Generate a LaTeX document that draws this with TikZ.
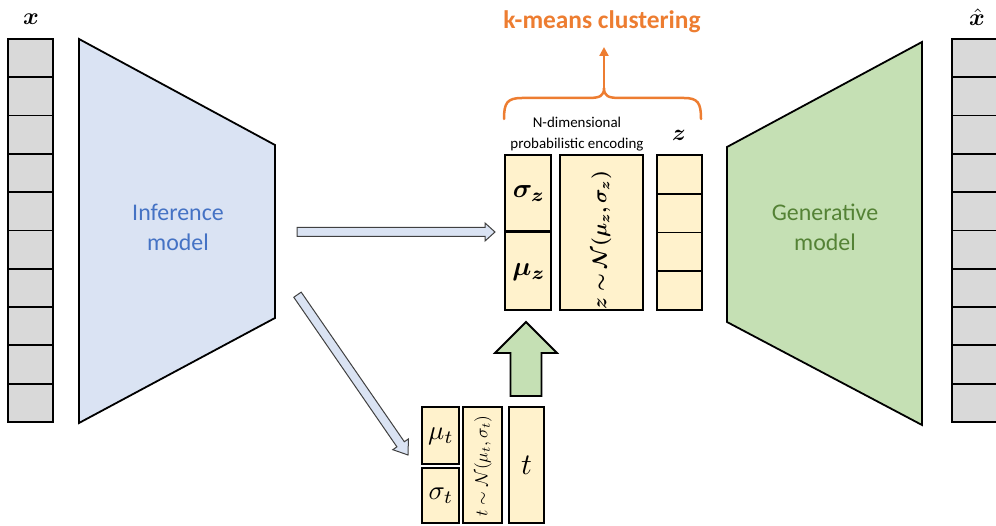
\documentclass[tikz,border=0pt]{standalone}
\usepackage{bm}
\usepackage[no-math]{fontspec}
\newfontfamily\carlito{Carlito}
\usetikzlibrary{calc,arrows.meta}
\definecolor{infill}{HTML}{DAE3F3}
\definecolor{genfill}{HTML}{C5E0B4}
\definecolor{boxfill}{HTML}{FFF2CC}
\definecolor{cellfill}{HTML}{D9D9D9}
\definecolor{orng}{HTML}{ED7D31}
\definecolor{bluetxt}{HTML}{4472C4}
\definecolor{greentxt}{HTML}{548235}
\definecolor{arrline}{HTML}{404040}
\newcommand\blockarr[6]{%
  \coordinate (ba-C) at ($(#2)!#5!(#1)$);
  \draw[#6] ($(#1)!#3!90:(#2)$) -- ($(ba-C)!#3!90:(#2)$) -- ($(ba-C)!#4!90:(#2)$) -- (#2)
    -- ($(ba-C)!#4!-90:(#2)$) -- ($(ba-C)!#3!-90:(#2)$) -- ($(#1)!#3!-90:(#2)$) -- cycle;}
\tikzset{
  cell/.style={draw=black, line width=1.8bp, fill=cellfill},
  ybox/.style={draw=black, line width=1.8bp, fill=boxfill},
  trap/.style={draw=black, line width=1.8bp},
  barrow/.style={draw=arrline, line width=1bp, fill=infill},
  garrow/.style={draw=black, line width=1.8bp, fill=genfill},
  modeltxt/.style={font=\carlito\fontsize{24}{30}\selectfont, align=center},
  mathtxt/.style={inner sep=0pt, scale=#1},
}
\begin{document}
\begin{tikzpicture}[x=1bp,y=-1bp]
\useasboundingbox (0,0) rectangle (996,526);
% input column
\foreach \i in {0,...,9}
  \draw[cell] (8,{39+38.3*\i}) rectangle ++(45,38.3);
\node[mathtxt=2.4] (xlab) at (31,19) {$\bm{x}$};
% output column
\foreach \i in {0,...,9}
  \draw[cell] (952,{39+38.3*\i}) rectangle ++(50,38.3);
\node[mathtxt=2.4] (xhatlab) at (977,17) {$\hat{\bm{x}}$};
% inference model
\draw[trap, fill=infill] (79,39) -- (275,145) -- (275,318) -- (79,423) -- cycle;
\node[modeltxt, text=bluetxt] (inf) at (178,227) {Inference\\model};
% generative model
\draw[trap, fill=genfill] (922,42) -- (727,147) -- (727,322) -- (922,425) -- cycle;
\node[modeltxt, text=greentxt] (gen) at (825,227) {Generative\\model};
% encoding boxes
\draw[ybox] (505,155) rectangle (551,310);
\draw[black, line width=3bp] (505,232) -- (551,232);
\node[mathtxt=2.7] (sigz) at (529,194) {$\bm{\sigma_z}$};
\node[mathtxt=2.7] (muz) at (529,272) {$\bm{\mu_z}$};
\draw[ybox] (560,155) rectangle (643,310);
\node[mathtxt=2.0, rotate=90] (zdist) at (601.5,240) {$\bm{z\sim\mathcal{N}(\mu_z,\sigma_z)}$};
\foreach \y in {155,193.75,232.5,271.25}
  \draw[ybox] (657,\y) rectangle ++(45,38.75);
\node[mathtxt=2.3] (zlab) at (679,135) {$\bm{z}$};
\node[font=\carlito\fontsize{15}{21}\selectfont, align=center, inner sep=0pt] (ndim) at (577,134) {N-dimensional\\probabilistic encoding};
% brace and k-means
\draw[orng, line width=2.5bp, line cap=round]
  (504,119) .. controls (504,103) and (507,98) .. (522,98) -- (588,98)
  .. controls (600,98) and (604,96) .. (604,88)
  .. controls (604,96) and (608,98) .. (620,98) -- (684,98)
  .. controls (698,98) and (701,103) .. (701,119);
\coordinate (brtip) at (604,88);
\coordinate (ktip) at (604,47);
\draw[orng, line width=2.5bp, -{Triangle[length=9bp,width=9bp]}] (brtip) -- (ktip);
\node[font=\carlito\bfseries\fontsize{25.5}{30}\selectfont, text=orng] (kmeans) at (602,22) {k-means clustering};
% lower boxes
\draw[ybox] (422,407) rectangle (459,464);
\draw[ybox] (422,468) rectangle (459,523);
\node[mathtxt=2.7] (mut) at (441,436) {$\mu_t$};
\node[mathtxt=2.7] (sigt) at (441,496) {$\sigma_t$};
\draw[ybox] (463,407) rectangle (502,523);
\node[mathtxt=1.75, rotate=90] (tdist) at (483,466) {$t\sim\mathcal{N}(\mu_t,\sigma_t)$};
\draw[ybox] (509,407) rectangle (544,523);
\node[mathtxt=3.0] (tlab) at (526.5,465) {$t$};
% block arrows
\coordinate (h1) at (297,232);
\coordinate (h2) at (495,232);
\blockarr{h1}{h2}{4.5bp}{9bp}{10bp}{barrow}
\coordinate (d1) at (297.5,294.7);
\coordinate (d2) at (408,455);
\blockarr{d1}{d2}{4.5bp}{9.5bp}{13bp}{barrow}
\coordinate (g1) at (526,396);
\coordinate (g2) at (526,322);
\blockarr{g1}{g2}{15.5bp}{31bp}{31bp}{garrow}
\end{tikzpicture}
\end{document}
